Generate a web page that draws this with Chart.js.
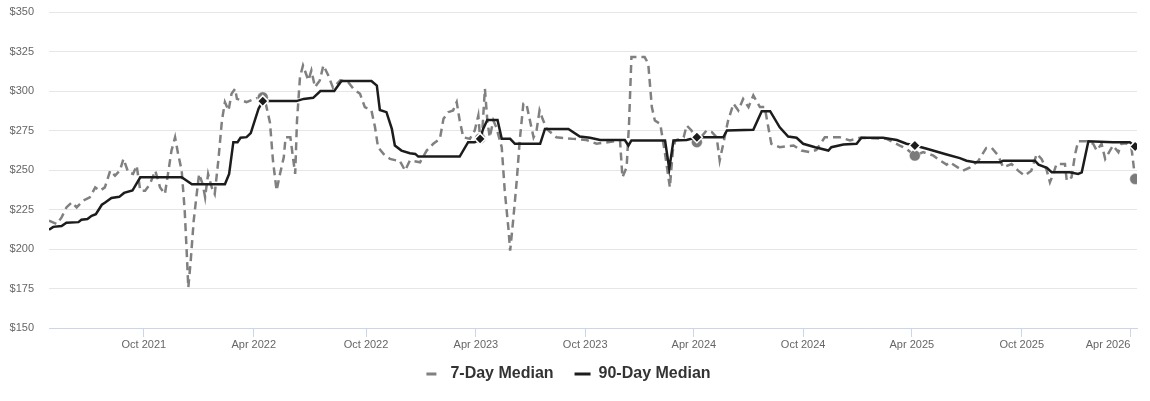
<!DOCTYPE html>
<html>
<head>
<meta charset="utf-8">
<script src="https://cdn.jsdelivr.net/npm/chart.js@4/dist/chart.umd.min.js"></script>
<style>
  html, body { margin: 0; padding: 0; background: #fff; }
  #wrap { width: 1150px; height: 401px; }
</style>
</head>
<body>
<div id="wrap"><canvas id="chart"></canvas></div>
<script>
// x values are days since the first sample (2021-04-26)
const day7 = [0, 13, 21, 29, 38, 46, 57, 68, 77, 85, 93, 102, 110, 118, 124, 132, 140, 146, 152, 160,
  168, 177, 185, 193, 199, 204, 210, 215, 221, 226, 229, 232, 236, 241, 246, 250, 256, 260, 265, 271,
  276, 282, 288, 293, 299, 304, 310, 313, 321, 329, 346, 356, 361, 368, 373, 379, 385, 391, 394, 402,
  407, 410, 413, 418, 423, 432, 437, 443, 451, 457, 465, 473, 485, 498, 507, 518, 526, 537, 543, 548,
  557, 568, 579, 584, 593, 601, 618, 629, 640, 651, 657, 665, 673, 679, 684, 690, 701, 709, 715, 718,
  721, 726, 730, 734, 740, 745, 754, 759, 765, 768, 773, 779, 784, 790, 795, 801, 807, 812, 817, 822,
  829, 845, 873, 895, 912, 951, 955, 962, 966, 970, 992, 998, 1004, 1009, 1018, 1026, 1034, 1039, 1043, 1057,
  1062, 1070, 1079, 1095, 1104, 1112, 1117, 1123, 1131, 1140, 1148, 1156, 1165, 1173, 1184, 1192, 1198, 1203, 1217, 1240,
  1253, 1267, 1278, 1292, 1317, 1334, 1351, 1395, 1417, 1428, 1442, 1456, 1473, 1484, 1495, 1500, 1522, 1534, 1548, 1561,
  1570, 1581, 1589, 1603, 1614, 1625, 1636, 1645, 1653, 1661, 1667, 1672, 1678, 1692, 1695, 1703, 1709, 1714, 1728, 1739,
  1745, 1753, 1759, 1767, 1772, 1781, 1786, 1795, 1803, 1809];
const price7 = [217.9, 215.8, 220, 226.3, 229.5, 226.3, 230.6, 232.7, 239, 236.9, 239, 249.6, 246.4, 249.6, 257, 248.5, 247.5, 252.8, 236.9, 236.9,
  241, 249.6, 239, 234.8, 249.6, 262.3, 270.7, 260.2, 249.6, 224.2, 201, 175.6, 192.5, 217.9, 234.8, 247.5, 241, 232.7, 247.5, 239,
  234.8, 256, 281.3, 293, 287.7, 298.2, 301.4, 295, 294, 293, 295.5, 296, 292, 280, 256, 237, 248, 258, 270.7, 270.7,
  256, 247.5, 281, 308.8, 316.2, 306.7, 313, 302.5, 306.7, 316.2, 310, 302, 306.7, 305.7, 301.4, 298.2, 289.8, 287.7, 277, 264.4,
  260.2, 257, 256, 256, 249.6, 256, 254.9, 262.3, 266.6, 269.7, 282.4, 286.6, 287.7, 293, 281.3, 270.7, 269.7, 275, 284.5, 270,
  270.7, 301.4, 281.3, 270.7, 281.3, 277, 264.4, 236.9, 213.6, 198.9, 217.9, 243.3, 268.7, 292, 292, 281.3, 270.7, 275, 287.7, 282.4,
  276, 270.7, 269.7, 269, 266.6, 268.7, 245.4, 251.7, 279.2, 321.5, 321.5, 317.3, 289.8, 281.3, 279.2, 260.2, 239, 262.3, 268.7, 270.7,
  278.2, 275, 267.6, 275, 274, 270.7, 256, 266.6, 281.3, 292, 287.7, 295, 289.8, 297.2, 289.8, 289.8, 277, 266.6, 264.4, 265.5,
  262.3, 261.3, 262.7, 270.7, 270.7, 268.7, 270.4, 269.7, 265.5, 263.4, 259.1, 261.3, 259.1, 256, 253.4, 254.9, 249.6, 251.7, 255.9, 264,
  264, 259.1, 251.7, 253.8, 249.6, 246.4, 249.6, 260.2, 257, 250.7, 242.2, 247, 253.8, 253.8, 243.3, 245.4, 260.2, 268.2, 268.2, 266.6,
  262.3, 266.6, 257, 262.3, 265.5, 261.3, 266.6, 267, 263.4, 244.3];

const day90 = [0, 7, 21, 29, 49, 54, 64, 71, 78, 88, 93, 104, 117, 125, 139, 152, 221, 238, 293, 300,
  307, 314, 319, 329, 336, 349, 356, 412, 424, 440, 452, 475, 487, 537, 546, 551, 562, 571, 576, 587,
  601, 610, 615, 684, 698, 709, 718, 723, 730, 747, 754, 768, 776, 818, 826, 865, 884, 901, 918, 959,
  965, 970, 1026, 1033, 1040, 1062, 1079, 1123, 1129, 1173, 1187, 1201, 1217, 1231, 1245, 1256, 1276, 1298, 1303, 1323,
  1345, 1353, 1389, 1412, 1428, 1442, 1462, 1495, 1517, 1528, 1542, 1584, 1589, 1642, 1648, 1662, 1670, 1700, 1714, 1720,
  1731, 1772, 1800, 1809];
const price90 = [212.2, 214, 214.5, 216.6, 217, 218.5, 219, 221, 222, 228, 229.3, 232.3, 233, 235.5, 237, 245.4, 245.4, 241, 241, 247.5,
  267.6, 267.6, 270.4, 270.8, 273.3, 288.8, 293.6, 293.6, 295, 295.7, 300, 300, 306.3, 306.3, 303.4, 288, 286.6, 276, 265.5, 262.3,
  260.6, 260.2, 258.5, 258.5, 267.6, 267.6, 269.7, 276, 281.7, 281.7, 269.7, 269.7, 266.6, 266.6, 276, 276, 271.2, 270.4, 269, 269,
  265.5, 268.7, 268.7, 250.7, 268.7, 269, 270.7, 270.7, 275, 275.4, 287.2, 287.2, 277, 271.2, 270.4, 266.6, 264.4, 262.3, 264.4, 266.1,
  266.6, 270.4, 270.4, 269, 266.6, 265.5, 263.4, 259.8, 257.5, 255.9, 254.9, 254.9, 255.9, 255.9, 253.4, 251.3, 248.5, 248.5, 247.5, 248.5,
  268.2, 267.6, 267.6, 264.9];

// yearly snapshot points that get a marker
const markerDays = [356, 718, 1079, 1442, 1809];

const tickDays = [158, 341, 528, 711, 893, 1074, 1256, 1437, 1620, 1801];
const tickLabels = ['Oct 2021', 'Apr 2022', 'Oct 2022', 'Apr 2023', 'Oct 2023',
  'Apr 2024', 'Oct 2024', 'Apr 2025', 'Oct 2025', 'Apr 2026'];

const GRAY = '#808080';
const BLACK = '#1c1c1c';

Chart.defaults.font.family = '"Liberation Sans", Arial, sans-serif';
Chart.defaults.color = '#666';

const toPoints = (xs, ys) => xs.map((x, i) => ({ x: x, y: ys[i] }));
const markerRadius = (ctx) => (ctx.raw && markerDays.includes(ctx.raw.x) ? 5.5 : 0);

new Chart(document.getElementById('chart'), {
  type: 'line',
  data: {
    datasets: [
      {
        label: '7-Day Median',
        data: toPoints(day7, price7),
        borderColor: GRAY,
        backgroundColor: '#7a7a7a',
        borderWidth: 2.5,
        borderDash: [8, 5],
        tension: 0,
        pointStyle: 'circle',
        pointRadius: markerRadius,
        pointBorderColor: '#fff',
        pointBorderWidth: 0.5,
        order: 1,
      },
      {
        label: '90-Day Median',
        data: toPoints(day90, price90),
        borderColor: BLACK,
        backgroundColor: BLACK,
        borderWidth: 2.5,
        tension: 0,
        pointStyle: 'rectRot',
        pointRadius: markerRadius,
        pointBorderColor: '#fff',
        pointBorderWidth: 1.5,
        order: 0,
      }
    ]
  },
  options: {
    responsive: true,
    maintainAspectRatio: false,
    animation: false,
    layout: { padding: { left: 0, right: 13, top: 12, bottom: 9 } },
    scales: {
      x: {
        type: 'linear',
        min: 0,
        max: 1812,
        afterBuildTicks: (scale) => {
          scale.ticks = [{ value: 0 }].concat(tickDays.map((v) => ({ value: v })));
        },
        afterFit: (scale) => {
          scale.height = 17;
          // let the labels hang below the (short) axis box instead of being clipped
          scale._computeLabelArea = () => null;
        },
        ticks: {
          align: 'inner',
          autoSkip: false,
          maxRotation: 0,
          padding: 1,
          color: '#666',
          font: { size: 11 },
          callback: (value) => {
            const i = tickDays.indexOf(value);
            return i >= 0 ? tickLabels[i] : '';
          }
        },
        grid: {
          drawOnChartArea: false,
          drawTicks: true,
          tickLength: 9,
          tickColor: (ctx) => (ctx.tick && ctx.tick.value === 0 ? 'rgba(0,0,0,0)' : '#ccd6eb'),
        },
        border: { display: true, color: '#ccd6eb', width: 1 }
      },
      y: {
        min: 150,
        max: 350,
        afterFit: (scale) => {
          scale.width = 49;
          scale.paddingTop = 0;
          scale.paddingBottom = 0;
        },
        ticks: {
          stepSize: 25,
          padding: 15,
          color: '#666',
          font: { size: 11 },
          callback: (value) => '$' + value
        },
        grid: { color: '#e6e6e6', drawTicks: false },
        border: { display: false }
      }
    },
    plugins: {
      legend: {
        position: 'bottom',
        labels: {
          color: '#333',
          font: { size: 16, weight: 'bold' },
          usePointStyle: true,
          pointStyle: 'line',
          pointStyleWidth: 16,
          boxHeight: 16,
          padding: 21,
          sort: (a, b) => a.datasetIndex - b.datasetIndex,
          generateLabels: (chart) => {
            const items = Chart.defaults.plugins.legend.labels.generateLabels(chart);
            items.forEach((item) => {
              const ds = chart.data.datasets[item.datasetIndex];
              item.strokeStyle = ds.borderColor;
              item.fillStyle = ds.borderColor;
              item.lineWidth = 3;
              item.lineDash = item.datasetIndex === 0 ? [10, 10] : [];
            });
            return items;
          }
        }
      },
      tooltip: { enabled: false }
    }
  }
});
</script>
</body>
</html>
